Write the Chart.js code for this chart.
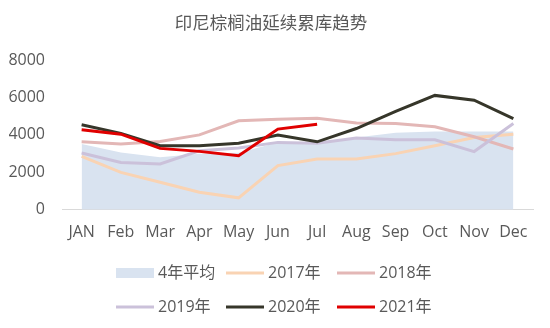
<!DOCTYPE html>
<html>
<head>
<meta charset="utf-8">
<script src="https://cdn.jsdelivr.net/npm/chart.js@4.4.1/dist/chart.umd.min.js"></script>
<style>
    html, body { margin: 0; padding: 0; background: #fff; }
    #wrap { width: 550px; height: 328px; }
</style>
</head>
<body>
<div id="wrap"><canvas id="stockChart"></canvas></div>
<script>
// Monthly palm oil stock data (tonnes, thousands)
const months = ['JAN', 'Feb', 'Mar', 'Apr', 'May', 'Jun', 'Jul', 'Aug', 'Sep', 'Oct', 'Nov', 'Dec'];
const avg4yr = [3510, 3060, 2800, 3000, 3050, 3600, 3620, 3860, 4120, 4180, 4180, 4180];
const y2017 = [2850, 2000, 1470, 940, 640, 2360, 2710, 2710, 3000, 3420, 3860, 4030];
const y2018 = [3630, 3510, 3650, 4000, 4750, 4840, 4890, 4630, 4610, 4430, 3900, 3250];
const y2019 = [3030, 2530, 2450, 3150, 3300, 3600, 3560, 3830, 3740, 3740, 3110, 4610];
const y2020 = [4540, 4080, 3420, 3420, 3560, 3990, 3630, 4340, 5250, 6110, 5850, 4870];
const y2021 = [4270, 4040, 3280, 3120, 2890, 4310, 4570, null, null, null, null, null];
const yTicks = [0, 2000, 4000, 6000, 8000];

const textColor = '#595959';
const fontFamily = "'Open Sans', 'Noto Sans CJK SC', sans-serif";

function lineSet(label, data, color, order) {
    return {
        label: label,
        data: data,
        borderColor: color,
        backgroundColor: color,
        borderWidth: 3,
        pointRadius: 0,
        tension: 0,
        fill: false,
        order: order
    };
}

// Legend laid out as a 3-column grid under the plot
const gridLegend = {
    id: 'gridLegend',
    afterDraw(chart) {
        const ctx = chart.ctx;
        const colX = [116, 226, 337];
        const rowY = [273, 307];
        const swatch = 38;
        ctx.save();
        ctx.font = '16px ' + fontFamily;
        ctx.textBaseline = 'middle';
        chart.data.datasets.forEach((ds, i) => {
            const x = colX[i % 3];
            const y = rowY[Math.floor(i / 3)];
            if (ds.fill) {
                ctx.fillStyle = ds.backgroundColor;
                ctx.fillRect(x, y - 5, swatch, 10);
            } else {
                ctx.strokeStyle = ds.borderColor;
                ctx.lineWidth = 3;
                ctx.beginPath();
                ctx.moveTo(x, y);
                ctx.lineTo(x + swatch, y);
                ctx.stroke();
            }
            ctx.fillStyle = textColor;
            ctx.fillText(ds.label, x + swatch + 4, y);
        });
        ctx.restore();
    }
};

const ctx = document.getElementById('stockChart').getContext('2d');
const stockChart = new Chart(ctx, {
    type: 'line',
    data: {
        labels: months,
        datasets: [
            {
                label: '4年平均',
                data: avg4yr,
                borderWidth: 0,
                borderColor: 'rgba(0,0,0,0)',
                backgroundColor: '#d9e3f0',
                pointRadius: 0,
                tension: 0,
                fill: 'origin',
                order: 6
            },
            lineSet('2017年', y2017, '#f9d3b3', 5),
            lineSet('2018年', y2018, '#e3b7b6', 4),
            lineSet('2019年', y2019, '#cbc1da', 3),
            lineSet('2020年', y2020, '#36362a', 2),
            lineSet('2021年', y2021, '#e00000', 1)
        ]
    },
    options: {
        responsive: true,
        maintainAspectRatio: false,
        animation: false,
        layout: {
            padding: { left: 9, right: 17, top: 0, bottom: 73 }
        },
        plugins: {
            legend: { display: false },
            tooltip: { enabled: false },
            title: {
                display: true,
                text: '印尼棕榈油延续累库趋势',
                color: textColor,
                font: { family: fontFamily, size: 17.5, weight: 'normal' },
                padding: { top: 14, bottom: 25 }
            }
        },
        scales: {
            x: {
                offset: true,
                grid: { display: false, drawTicks: false },
                border: { display: true, color: '#d9d9d9', width: 1 },
                ticks: {
                    color: textColor,
                    padding: 13,
                    maxRotation: 0,
                    autoSkip: false,
                    font: { family: fontFamily, size: 16 }
                }
            },
            y: {
                min: 0,
                max: 8000,
                afterBuildTicks: axis => { axis.ticks = yTicks.map(v => ({ value: v })); },
                afterFit: axis => { axis.width = 53; },
                grid: { display: false, drawTicks: false },
                border: { display: false },
                ticks: {
                    color: textColor,
                    padding: 17,
                    callback: v => String(v),
                    font: { family: fontFamily, size: 16 }
                }
            }
        }
    },
    plugins: [gridLegend]
});
</script>
</body>
</html>
